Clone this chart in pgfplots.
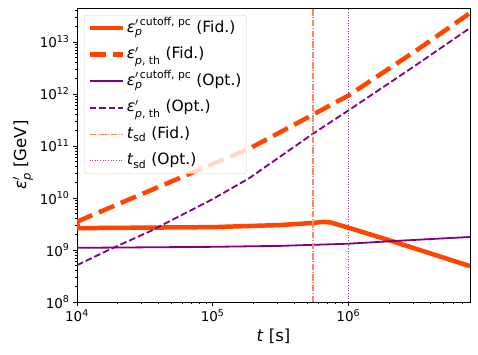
\documentclass[border=0pt]{standalone}
\usepackage{fontspec}
\setmainfont{DejaVu Sans}
\usepackage{amsmath}
\usepackage{pgfplots}
\pgfplotsset{compat=1.18}
\definecolor{fidc}{RGB}{255,69,0}
\definecolor{optc}{RGB}{128,0,128}
\definecolor{fidsd}{RGB}{255,135,95}
\definecolor{optsd}{RGB}{160,60,160}
\newcommand{\ep}{\textit{ε}}
\newcommand{\cutlab}{${\text{\ep}}^{\prime\,\text{cutoff, pc}}_{\text{\itshape p}}$}
\newcommand{\thlab}{${\text{\ep}}^{\prime}_{\text{\itshape p}\text{, th}}$}

\begin{document}
\begin{tikzpicture}
\useasboundingbox (-77pt,-53pt) rectangle (401pt,302pt);
\begin{axis}[
    scale only axis,
    width=393pt, height=294pt,
    xmode=log, ymode=log,
    xmin=1e4, xmax=7.9e6, ymin=1e8, ymax=4.5e13,
    xtick={1e4,1e5,1e6},
    xticklabels={10\textsuperscript{4},10\textsuperscript{5},10\textsuperscript{6}},
    minor xtick={2e4,3e4,4e4,5e4,6e4,7e4,8e4,9e4,2e5,3e5,4e5,5e5,6e5,7e5,8e5,9e5,2e6,3e6,4e6,5e6,6e6,7e6},
    ytick={1e8,1e9,1e10,1e11,1e12,1e13},
    yticklabels={10\textsuperscript{8},10\textsuperscript{9},10\textsuperscript{10},10\textsuperscript{11},10\textsuperscript{12},10\textsuperscript{13}},
    minor ytick={2e8,3e8,4e8,5e8,6e8,7e8,8e8,9e8,2e9,3e9,4e9,5e9,6e9,7e9,8e9,9e9,2e10,3e10,4e10,5e10,6e10,7e10,8e10,9e10,2e11,3e11,4e11,5e11,6e11,7e11,8e11,9e11,2e12,3e12,4e12,5e12,6e12,7e12,8e12,9e12,2e13,3e13,4e13},
    tick align=outside, tick pos=left,
    major tick length=4pt, minor tick length=2pt,
    every tick/.style={black, line width=0.8pt},
    axis line style={line width=0.8pt},
    tick label style={font=\fontsize{13.5}{15}\selectfont},
    label style={font=\fontsize{16.5}{18}\selectfont},
    xlabel={\textit{t} [s]},
    ylabel={${\text{\ep}}^{\prime}_{\text{\itshape p}}$ [GeV]},
    legend cell align=left,
    legend style={at={(0.018,0.976)}, anchor=north west, draw=gray!35, rounded corners=3pt,
        fill=white, fill opacity=0.8, draw opacity=1, text opacity=1,
        font=\fontsize{15.5}{17}\selectfont, row sep=4.5pt,
        nodes={text height=13pt, text depth=5pt}},
    legend image code/.code={\draw[#1] (0pt,0pt) -- (33pt,0pt);},
]
\addplot[fidc, line width=4.5pt] coordinates {
(1e4,3.5e9) (1.02e4,2.63e9) (3.16e4,2.69e9) (1e5,2.75e9) (3.16e5,3.02e9)
(5.5e5,3.31e9) (6.5e5,3.47e9) (7.4e5,3.39e9) (1e6,2.69e9) (2.1e6,1.48e9) (7.9e6,4.9e8)};
\addlegendentry{\cutlab\ (Fid.)}
\addplot[fidc, line width=4.5pt, dash pattern=on 16.6pt off 7.2pt] coordinates {
(1e4,3.5e9) (2.57e4,1e10) (1e5,4.5e10) (1.86e5,8.9e10) (3.7e5,2.3e11)
(1e6,9.3e11) (3.16e6,6.8e12) (7.9e6,3.6e13)};
\addlegendentry{\thlab\ (Fid.)}
\addplot[optc, line width=1.8pt] coordinates {
(1e4,1.1e9) (1e5,1.15e9) (3.16e5,1.2e9) (1e6,1.32e9) (2.1e6,1.48e9) (4e6,1.62e9) (7.9e6,1.78e9)};
\addlegendentry{\cutlab\ (Opt.)}
\addplot[optc, line width=1.8pt, dash pattern=on 6.7pt off 2.9pt] coordinates {
(1e4,5.1e8) (1.78e4,1.05e9) (3.47e4,2.3e9) (1e5,9.5e9) (1.86e5,2.4e10) (3.16e5,6.3e10)
(5.6e5,1.78e11) (1e6,4.8e11) (3.16e6,3.6e12) (7.9e6,1.86e13)};
\addlegendentry{\thlab\ (Opt.)}
\addplot[fidsd, line width=1.2pt, dash pattern=on 6.4pt off 1.6pt on 1pt off 1.6pt] coordinates {
(5.5e5,1e8) (5.5e5,4.5e13)};
\addlegendentry{\textit{t}\textsubscript{sd} (Fid.)}
\addplot[optsd, line width=1pt, dash pattern=on 1pt off 1.65pt] coordinates {
(1e6,1e8) (1e6,4.5e13)};
\addlegendentry{\textit{t}\textsubscript{sd} (Opt.)}
\end{axis}
\end{tikzpicture}
\end{document}
